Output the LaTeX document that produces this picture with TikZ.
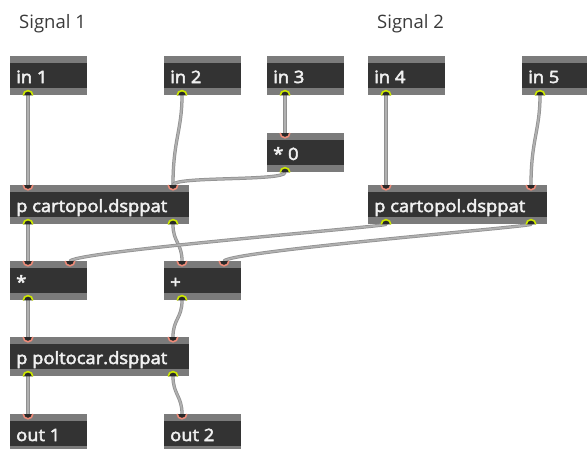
\documentclass[tikz,border=0pt]{standalone}
\usepackage{fontspec}
\setmainfont{Open Sans}
\newfontfamily\boxfont{Open Sans}[FakeStretch=1.08,FakeBold=3]
\usetikzlibrary{calc}

\definecolor{objbody}{HTML}{333333}
\definecolor{objstrip}{HTML}{7B7B7B}
\definecolor{inletring}{HTML}{EC8A78}
\definecolor{outletring}{HTML}{CDE800}
\definecolor{cablecol}{HTML}{B0B0B0}
\definecolor{cableedge}{HTML}{909090}
\definecolor{labelcol}{HTML}{3A3A3A}

\tikzset{
  objbox/.style={anchor=north west, minimum height=39pt, inner sep=0pt,
    fill=objbody, draw=none,
    path picture={
      \fill[objstrip] (path picture bounding box.north west)
        rectangle ([yshift=-7pt]path picture bounding box.north east);
      \fill[objstrip] (path picture bounding box.south west)
        rectangle ([yshift=7pt]path picture bounding box.south east);
    }},
  smallobj/.style={objbox, minimum width=77pt},
  wideobj/.style={objbox, minimum width=179pt},
  objtext/.style={anchor=base west, inner sep=0pt, text=white!94!black,
    font=\boxfont\fontsize{17}{17}\selectfont},
  signallabel/.style={anchor=base west, inner sep=0pt, text=labelcol,
    font=\fontsize{18.5}{18.5}\selectfont},
  cable/.style={draw=cableedge, line width=0.75pt, double=cablecol,
    double distance=1.8pt, line cap=round},
  inletport/.style={draw=inletring, line width=1.6pt, fill=objbody!80!black},
  outletport/.style={draw=outletring, line width=1.6pt, fill=objbody!80!black},
}

% object box with its label: name, x, y, style, text
\newcommand{\maxobj}[5]{%
  \node[#4] (#1) at (#2,#3) {};
  \node[objtext] (#1-t) at ($(#1.north west)+(6,27)$) {#5};
}
% port coordinates along top (inlets) and bottom (outlets)
\newcommand{\inlet}[3]{\coordinate (#1-i#2) at ($(#1.north west)+(#3,0)$);}
\newcommand{\outlet}[3]{\coordinate (#1-o#2) at ($(#1.south west)+(#3,0)$);}
\newcommand{\drawinlet}[1]{%
  \draw[inletport] ($(#1)+(-4.8,0)$) arc[start angle=180, end angle=360, radius=4.8pt];}
\newcommand{\drawoutlet}[1]{%
  \draw[outletport] ($(#1)+(-4.8,0)$) arc[start angle=180, end angle=0, radius=4.8pt];}

\begin{document}
\begin{tikzpicture}[x=1pt,y=-1pt]
\useasboundingbox (0,0) rectangle (587,448);
\fill[white] (0,0) rectangle (587,448);
\clip (0,0) rectangle (587,448);

% section titles
\node[signallabel] (sig1) at (19,28) {Signal 1};
\node[signallabel] (sig2) at (377,28) {Signal 2};

% objects
\maxobj{in1}{10}{56}{smallobj}{in 1}
\maxobj{in2}{164}{56}{smallobj}{in 2}
\maxobj{in3}{267}{56}{smallobj}{in 3}
\maxobj{in4}{368}{56}{smallobj}{in 4}
\maxobj{in5}{522}{56}{smallobj}{in 5}
\maxobj{zero}{267}{133}{smallobj}{* 0}
\maxobj{cpL}{10}{185}{wideobj}{p cartopol.dsppat}
\maxobj{cpR}{368}{185}{wideobj}{p cartopol.dsppat}
\maxobj{mul}{10}{261}{smallobj}{*}
\maxobj{add}{164}{261}{smallobj}{+}
\maxobj{pol}{10}{337}{wideobj}{p poltocar.dsppat}
\maxobj{out1}{10}{414}{smallobj}{out 1}
\maxobj{out2}{164}{414}{smallobj}{out 2}

% ports
\foreach \o in {in1,in2,in3,in4,in5,zero,mul,add} {\outlet{\o}{1}{18}}
\foreach \o in {zero,mul,add,out1,out2} {\inlet{\o}{1}{18}}
\inlet{mul}{2}{60}
\inlet{add}{2}{60}
\foreach \o in {cpL,cpR,pol} {
  \inlet{\o}{1}{18}\inlet{\o}{2}{163}
  \outlet{\o}{1}{18}\outlet{\o}{2}{163}
}

% patch cords
\draw[cable] (in1-o1) -- (cpL-i1);
\draw[cable] (in2-o1) .. controls +(0,35) and +(0,-45) .. (cpL-i2);
\draw[cable] (in3-o1) -- (zero-i1);
\draw[cable] (zero-o1) .. controls +(0,9) and +(0,-9) .. (cpL-i2);
\draw[cable] (in4-o1) -- (cpR-i1);
\draw[cable] (in5-o1) .. controls +(0,35) and +(0,-45) .. (cpR-i2);
\draw[cable] (cpL-o1) -- (mul-i1);
\draw[cable] (cpL-o2) .. controls +(0,18) and +(0,-18) .. (add-i1);
\draw[cable] (cpR-o1) .. controls +(-10,3) and +(10,-10) .. (mul-i2);
\draw[cable] (cpR-o2) .. controls +(-9,3) and +(8,-10) .. (add-i2);
\draw[cable] (mul-o1) -- (pol-i1);
\draw[cable] (add-o1) .. controls +(0,18) and +(0,-18) .. (pol-i2);
\draw[cable] (pol-o1) -- (out1-i1);
\draw[cable] (pol-o2) .. controls +(0,18) and +(0,-18) .. (out2-i1);

% port markers on top of the cords
\foreach \p in {in1-o1,in2-o1,in3-o1,in4-o1,in5-o1,zero-o1,mul-o1,add-o1,
                cpL-o1,cpL-o2,cpR-o1,cpR-o2,pol-o1,pol-o2} {\drawoutlet{\p}}
\foreach \p in {zero-i1,mul-i1,mul-i2,add-i1,add-i2,out1-i1,out2-i1,
                cpL-i1,cpL-i2,cpR-i1,cpR-i2,pol-i1,pol-i2} {\drawinlet{\p}}
\end{tikzpicture}
\end{document}
